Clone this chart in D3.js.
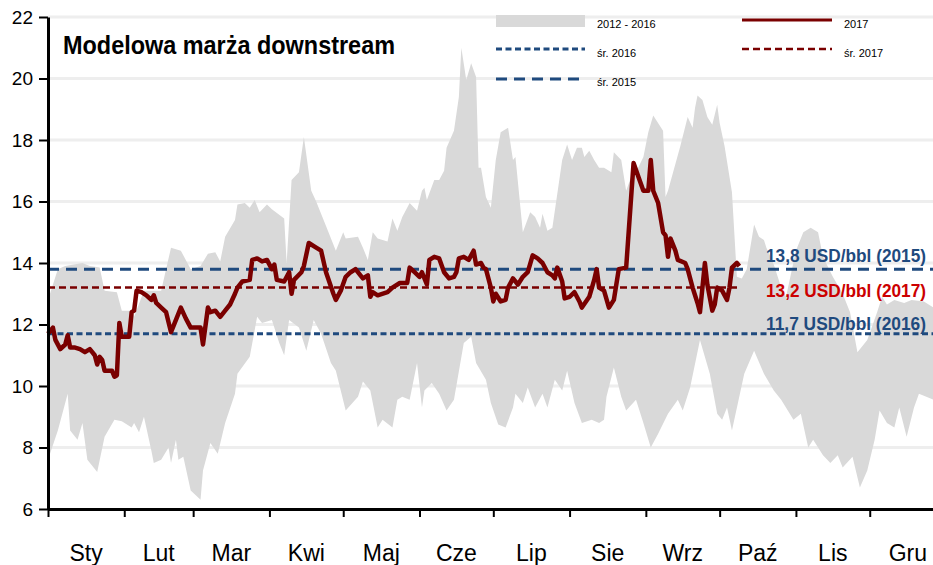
<!DOCTYPE html>
<html>
<head>
<meta charset="utf-8">
<script src="https://cdn.jsdelivr.net/npm/d3@7"></script>
<style>
  body { margin: 0; background: #fff; }
  svg { display: block; font-family: "Liberation Sans", Arial, sans-serif; }
</style>
</head>
<body>
<div id="chart"></div>
<script>
// month labels and the day of year at which each month starts
var months = ["Sty", "Lut", "Mar", "Kwi", "Maj", "Cze", "Lip", "Sie", "Wrz", "Paź", "Lis", "Gru"];
var monthStart = [0, 31, 59, 90, 120, 151, 181, 212, 243, 273, 304, 334, 365];
var yTicks = [6, 8, 10, 12, 14, 16, 18, 20, 22];

// yearly averages (USD/bbl)
var avg2015 = 13.8;
var avg2016 = 11.7;
var avg2017 = 13.2;

// 2017 margin, day of year and value
var days2017 = [0, 2, 3, 5, 7, 8, 9, 11, 13, 15, 17, 19, 20, 21, 22, 23, 26, 27, 28, 29, 30, 33, 34, 35, 36, 38, 40, 42, 43, 44, 46, 48, 50, 52, 54, 56, 58, 60, 62, 63, 65, 66, 68, 70, 72, 74, 76, 77, 79, 82, 83, 85, 87, 89, 91, 92, 93, 96, 98, 99, 100, 103, 104, 106, 109, 111, 113, 116, 117, 119, 121, 123, 125, 127, 128, 130, 131, 132, 134, 138, 140, 143, 146, 147, 149, 151, 152, 154, 155, 157, 159, 161, 163, 165, 166, 167, 169, 171, 173, 174, 176, 177, 178, 180, 181, 182, 184, 186, 187, 189, 191, 193, 195, 197, 199, 201, 203, 205, 206, 207, 209, 210, 212, 214, 216, 217, 220, 222, 223, 224, 226, 228, 230, 232, 235, 238, 240, 242, 244, 245, 246, 248, 250, 251, 252, 253, 255, 256, 259, 260, 262, 264, 265, 266, 267, 268, 270, 271, 272, 274, 276, 277, 278, 280, 281];
var vals2017 = [11.7, 11.9, 11.5, 11.2, 11.35, 11.65, 11.25, 11.25, 11.2, 11.1, 11.2, 11.0, 10.7, 10.95, 10.85, 10.5, 10.5, 10.3, 10.35, 12.05, 11.6, 11.6, 12.4, 12.45, 13.1, 13.05, 12.95, 12.8, 12.95, 12.7, 12.55, 12.4, 11.75, 12.15, 12.55, 12.2, 11.9, 11.9, 11.9, 11.35, 12.55, 12.4, 12.45, 12.25, 12.45, 12.65, 13.0, 13.2, 13.4, 13.45, 14.1, 14.15, 14.05, 14.1, 13.8, 13.95, 13.45, 13.4, 13.7, 13.0, 13.45, 13.7, 13.9, 14.65, 14.5, 14.4, 13.7, 13.0, 12.8, 13.1, 13.55, 13.7, 13.8, 13.6, 13.5, 13.6, 12.9, 13.05, 12.95, 13.05, 13.2, 13.35, 13.35, 13.85, 13.7, 13.55, 13.7, 13.3, 14.1, 14.2, 14.15, 13.7, 13.5, 13.55, 13.7, 14.15, 14.2, 14.1, 14.4, 13.95, 14.0, 13.85, 13.8, 13.2, 12.75, 13.0, 12.75, 12.8, 13.2, 13.5, 13.3, 13.55, 13.7, 14.25, 14.15, 14.0, 13.7, 13.6, 13.5, 13.85, 13.4, 12.85, 12.9, 13.05, 12.75, 12.55, 12.9, 13.45, 13.8, 13.2, 13.1, 12.55, 12.8, 13.8, 13.85, 17.25, 16.8, 16.35, 16.35, 17.35, 16.35, 15.95, 15.0, 14.9, 14.2, 14.8, 14.4, 14.1, 14.0, 13.8, 13.2, 12.7, 12.4, 13.2, 14.0, 13.3, 12.45, 12.65, 13.2, 13.1, 12.8, 13.2, 13.85, 14.0, 13.9];

// 2012-2016 range, upper edge (max)
var maxDays = [0, 4, 7, 14, 17, 21, 23, 28, 30, 34, 35, 39, 46, 50, 54, 58, 62, 65, 68, 70, 72, 76, 77, 80, 82, 84, 86, 89, 91, 96, 97, 99, 102, 104, 107, 109, 113, 117, 120, 121, 126, 128, 130, 132, 134, 138, 140, 142, 144, 147, 150, 152, 153, 154, 157, 159, 161, 162, 165, 167, 168, 170, 172, 174, 175, 176, 178, 180, 182, 184, 187, 189, 190, 193, 196, 198, 200, 201, 203, 205, 209, 211, 213, 215, 217, 218, 220, 222, 224, 226, 229, 230, 233, 235, 237, 239, 242, 244, 246, 250, 251, 252, 257, 260, 262, 263, 264, 266, 268, 270, 272, 273, 275, 278, 280, 282, 284, 287, 289, 291, 292, 295, 298, 300, 304, 307, 310, 313, 315, 319, 323, 326, 329, 333, 337, 339, 341, 344, 348, 351, 356, 360, 365];
var maxVals = [12.8, 13.8, 13.9, 14.0, 13.9, 13.85, 13.1, 13.05, 12.45, 12.45, 12.25, 13.1, 13.1, 14.5, 14.4, 13.8, 13.9, 14.3, 14.35, 14.05, 14.85, 15.4, 15.9, 15.95, 15.8, 16.05, 15.65, 15.9, 15.75, 15.45, 14.0, 16.7, 16.95, 18.1, 16.35, 16.0, 15.2, 14.4, 15.0, 14.8, 14.85, 14.5, 14.1, 15.0, 14.8, 14.7, 15.45, 15.05, 15.5, 15.95, 15.7, 16.35, 16.45, 16.05, 16.7, 16.7, 17.0, 17.75, 18.3, 19.4, 21.0, 19.95, 20.5, 20.05, 17.1, 17.1, 16.15, 15.8, 17.35, 18.25, 18.4, 17.35, 17.45, 15.0, 15.65, 15.5, 15.15, 15.6, 15.05, 15.15, 17.35, 17.85, 17.35, 17.75, 17.75, 17.45, 17.65, 17.35, 17.1, 17.1, 16.95, 17.6, 17.35, 16.35, 16.8, 16.95, 17.45, 18.25, 18.8, 18.3, 16.15, 16.35, 17.8, 18.75, 18.4, 19.05, 19.45, 19.3, 18.75, 18.5, 19.15, 18.55, 17.8, 16.3, 13.55, 13.5, 13.8, 15.25, 14.85, 14.75, 14.5, 13.95, 13.2, 12.9, 14.4, 15.0, 15.15, 15.0, 14.2, 13.55, 13.0, 12.4, 11.1, 11.5, 12.4, 12.9, 12.65, 12.8, 12.7, 12.8, 12.75, 12.55, 12.65];

// 2012-2016 range, lower edge (min)
var minDays = [0, 4, 8, 9, 12, 14, 16, 20, 23, 27, 30, 34, 35, 37, 39, 42, 43, 46, 49, 50, 52, 53, 55, 58, 62, 63, 66, 69, 72, 76, 77, 82, 85, 87, 91, 94, 96, 98, 102, 105, 108, 111, 115, 117, 121, 126, 128, 131, 134, 136, 140, 142, 144, 147, 150, 152, 153, 156, 159, 162, 165, 169, 172, 174, 178, 180, 183, 186, 189, 190, 193, 195, 198, 201, 203, 206, 209, 211, 214, 217, 221, 224, 226, 227, 230, 233, 235, 239, 242, 245, 248, 252, 256, 258, 261, 265, 269, 272, 274, 276, 278, 283, 287, 291, 295, 298, 303, 306, 309, 311, 315, 318, 321, 323, 327, 330, 333, 336, 338, 341, 344, 346, 349, 352, 354, 357, 360, 365];
var minVals = [7.6, 8.55, 9.75, 8.55, 8.25, 8.8, 7.6, 7.2, 8.35, 8.9, 8.85, 8.65, 8.8, 8.5, 9.0, 7.9, 7.5, 7.6, 8.0, 7.5, 8.25, 7.6, 7.7, 6.6, 6.3, 7.25, 8.15, 7.8, 8.8, 9.75, 10.4, 10.95, 12.25, 12.05, 12.15, 11.4, 11.0, 12.15, 11.9, 11.15, 12.15, 11.7, 10.75, 10.5, 9.2, 9.65, 10.15, 9.85, 8.65, 8.9, 8.65, 9.55, 9.65, 9.55, 10.75, 9.3, 9.85, 10.1, 9.75, 9.2, 9.55, 11.4, 11.6, 10.75, 10.2, 9.45, 8.75, 8.65, 9.3, 9.75, 9.45, 9.95, 9.3, 9.75, 9.3, 10.2, 9.85, 10.5, 9.45, 8.8, 8.9, 8.8, 8.9, 9.65, 10.6, 9.65, 9.2, 9.55, 8.8, 8.0, 8.45, 9.1, 9.55, 9.2, 9.95, 11.5, 10.4, 9.1, 8.9, 9.3, 8.55, 10.4, 11.15, 10.4, 9.85, 9.55, 8.9, 9.1, 8.0, 8.25, 7.75, 7.5, 7.75, 7.35, 7.7, 6.7, 7.25, 8.25, 9.2, 8.8, 8.65, 9.3, 8.35, 9.3, 9.75, 9.65, 9.55, 9.4];

var width = 933, height = 565;
var blue = "#1f4a7e", darkRed = "#7a0000", red = "#cc0000", band = "#d9d9d9";

var svg = d3.select("#chart").append("svg")
  .attr("width", width)
  .attr("height", height);

// day of year on x, margin on y
var x = d3.scaleLinear().domain([0, 365]).range([48, 946]);
var y = d3.scaleLinear().domain([6, 22]).range([509, 17]);

// light horizontal gridlines
svg.append("g").selectAll("line")
  .data(yTicks.filter(function(d) { return d > 6; }))
  .enter().append("line")
  .attr("x1", x(0)).attr("x2", width)
  .attr("y1", function(d) { return y(d); })
  .attr("y2", function(d) { return y(d); })
  .attr("stroke", "#eeeeee")
  .attr("stroke-width", 3);

// 2012-2016 band: upper edge forward, lower edge back
var upper = maxDays.map(function(d, i) { return [d, maxVals[i]]; });
var lower = minDays.map(function(d, i) { return [d, minVals[i]]; }).reverse();
var line = d3.line()
  .x(function(d) { return x(d[0]); })
  .y(function(d) { return y(d[1]); });

svg.append("path")
  .attr("d", line(upper.concat(lower)) + "Z")
  .attr("fill", band);

// average lines
function avgLine(v, x2, color, w, dash) {
  svg.append("line")
    .attr("x1", x(0)).attr("x2", x2)
    .attr("y1", y(v)).attr("y2", y(v))
    .attr("stroke", color)
    .attr("stroke-width", w)
    .attr("stroke-dasharray", dash);
}
avgLine(avg2015, width, blue, 3, "11,7");
// the 2017 average only runs as far as the 2017 data
avgLine(avg2017, x(days2017[days2017.length - 1]), darkRed, 2.5, "7,4");
avgLine(avg2016, width, blue, 3, "6,3.5");

// 2017 line
var pts2017 = days2017.map(function(d, i) { return [d, vals2017[i]]; });
svg.append("path")
  .datum(pts2017)
  .attr("fill", "none")
  .attr("stroke", darkRed)
  .attr("stroke-width", 4.5)
  .attr("stroke-linejoin", "round")
  .attr("d", line);

// axes
var yAxis = d3.axisLeft(y).tickValues(yTicks).tickSize(9).tickSizeOuter(0).tickPadding(6);
var yg = svg.append("g").attr("transform", "translate(" + x(0) + ",0)").call(yAxis);
yg.select(".domain").attr("stroke", "#000").attr("stroke-width", 3);
yg.selectAll(".tick line").attr("stroke", "#000").attr("stroke-width", 2);
yg.selectAll(".tick text").style("font-size", "19px").attr("fill", "#000").attr("font-family", "Liberation Sans, sans-serif");

var xAxis = d3.axisBottom(x).tickValues(monthStart.slice(0, 12)).tickFormat("").tickSize(8).tickSizeOuter(0);
var xg = svg.append("g").attr("transform", "translate(0," + y(6) + ")").call(xAxis);
xg.select(".domain").attr("stroke", "#000").attr("stroke-width", 3);
xg.selectAll(".tick line").attr("stroke", "#000").attr("stroke-width", 2);

// month names centred in each month
svg.append("g").selectAll("text")
  .data(months)
  .enter().append("text")
  .attr("x", function(d, i) { return x((monthStart[i] + monthStart[i + 1]) / 2); })
  .attr("y", 561)
  .attr("text-anchor", "middle")
  .style("font-size", "23px")
  .text(function(d) { return d; });

// title
svg.append("text")
  .attr("x", 63).attr("y", 54)
  .attr("font-weight", "bold")
  .attr("textLength", 332)
  .attr("lengthAdjust", "spacingAndGlyphs")
  .style("font-size", "26px")
  .text("Modelowa marża downstream");

// legend
var leg = svg.append("g").style("font-size", "11px");
leg.append("rect").attr("x", 496).attr("y", 15).attr("width", 89).attr("height", 12).attr("fill", band);
leg.append("text").attr("x", 597).attr("y", 28).text("2012 - 2016");
leg.append("line").attr("x1", 742).attr("x2", 832).attr("y1", 20).attr("y2", 20).attr("stroke", darkRed).attr("stroke-width", 3);
leg.append("text").attr("x", 844).attr("y", 28).text("2017");
leg.append("line").attr("x1", 496).attr("x2", 585).attr("y1", 49).attr("y2", 49).attr("stroke", blue).attr("stroke-width", 3).attr("stroke-dasharray", "6,3.5");
leg.append("text").attr("x", 597).attr("y", 57).text("śr. 2016");
leg.append("line").attr("x1", 742).attr("x2", 832).attr("y1", 49).attr("y2", 49).attr("stroke", darkRed).attr("stroke-width", 2.5).attr("stroke-dasharray", "7,4");
leg.append("text").attr("x", 844).attr("y", 57).text("śr. 2017");
leg.append("line").attr("x1", 496).attr("x2", 585).attr("y1", 79).attr("y2", 79).attr("stroke", blue).attr("stroke-width", 3).attr("stroke-dasharray", "11,7");
leg.append("text").attr("x", 597).attr("y", 86).text("śr. 2015");

// labels for the averages, kept inside the right edge
var labels = [
  { t: "13,8 USD/bbl (2015)", v: avg2015, c: blue, dy: -7 },
  { t: "13,2 USD/bbl (2017)", v: avg2017, c: red, dy: 9 },
  { t: "11,7 USD/bbl (2016)", v: avg2016, c: blue, dy: -4 }
];
svg.append("g").selectAll("text")
  .data(labels)
  .enter().append("text")
  .attr("x", 766)
  .attr("y", function(d) { return y(d.v) + d.dy; })
  .attr("fill", function(d) { return d.c; })
  .attr("font-weight", "bold")
  .attr("textLength", 160)
  .attr("lengthAdjust", "spacingAndGlyphs")
  .style("font-size", "17.5px")
  .text(function(d) { return d.t; });
</script>
</body>
</html>
